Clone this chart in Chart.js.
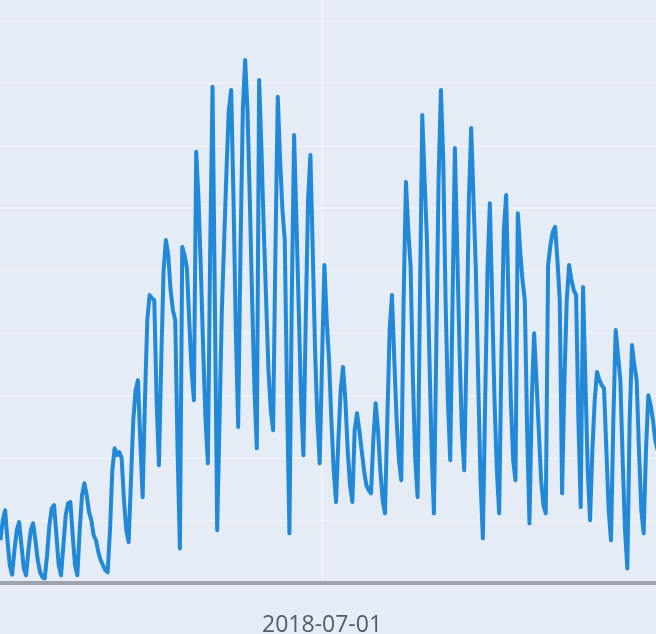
<!DOCTYPE html>
<html>
<head>
<meta charset="utf-8">
<script src="https://cdn.jsdelivr.net/npm/chart.js@4.4.1/dist/chart.umd.min.js"></script>
<style>
  html, body { margin: 0; padding: 0; background: #e5ecf6; overflow: hidden; }
  #wrap { width: 656px; height: 667px; }
  #chart { filter: blur(0.6px); }
</style>
</head>
<body>
<div id="wrap"><canvas id="chart"></canvas></div>
<script>
// daily values, first day below
const startDate = '2018-02-13';
const visits = [
  69, 101, 117, 69, 29, 14, 53, 85, 98, 61,
  24, 13, 53, 85, 96, 69, 37, 18, 10, 8,
  45, 93, 120, 125, 77, 29, 13, 61, 109, 128,
  130, 77, 29, 13, 85, 141, 160, 141, 114, 101,
  77, 69, 50, 37, 29, 21, 18, 85, 181, 216,
  205, 210, 200, 133, 85, 66, 165, 261, 309, 325,
  229, 138, 293, 421, 461, 456, 453, 293, 189, 357,
  501, 549, 525, 469, 437, 421, 213, 56, 538, 525,
  504, 421, 341, 293, 690, 613, 501, 373, 261, 192,
  533, 794, 453, 85, 261, 437, 549, 661, 757, 789,
  613, 405, 250, 533, 757, 837, 757, 613, 453, 309,
  216, 805, 693, 565, 453, 341, 277, 245, 533, 778,
  677, 597, 549, 293, 80, 453, 717, 581, 437, 293,
  205, 421, 613, 685, 533, 373, 261, 192, 357, 509,
  421, 357, 261, 181, 130, 229, 309, 346, 293, 213,
  157, 130, 245, 272, 245, 213, 181, 157, 149, 144,
  229, 288, 245, 181, 133, 112, 261, 405, 461, 357,
  261, 197, 165, 453, 642, 565, 506, 325, 197, 138,
  453, 749, 645, 549, 373, 213, 112, 373, 645, 789,
  677, 453, 293, 197, 453, 696, 533, 373, 245, 181,
  373, 613, 728, 613, 501, 325, 165, 72, 293, 501,
  608, 453, 293, 181, 112, 373, 565, 621, 453, 293,
  197, 165, 592, 533, 485, 453, 245, 96, 293, 400,
  325, 245, 165, 125, 112, 509, 541, 562, 570, 517,
  453, 144, 325, 453, 509, 485, 469, 461, 261, 122,
  474, 325, 181, 101, 213, 293, 338, 325, 317, 312,
  213, 117, 69, 261, 405, 365, 325, 197, 85, 24,
  261, 381, 349, 325, 213, 117, 80, 213, 301, 285,
  261, 229, 213
];
const tickLabels = ['2018-07-01'];
const yTicks = [0, 100, 200, 300, 400, 500, 600, 700, 800, 900];

const days = visits.map((v, i) => {
  const d = new Date(startDate + 'T00:00:00Z');
  d.setUTCDate(d.getUTCDate() + i);
  return d.toISOString().slice(0, 10);
});

const ctx = document.getElementById('chart').getContext('2d');
new Chart(ctx, {
  type: 'line',
  data: {
    datasets: [{
      data: visits.map((v, i) => ({ x: i, y: v })),
      borderColor: '#2189d8',
      borderWidth: 4,
      borderJoinStyle: 'round',
      pointRadius: 0,
      tension: 0,
      fill: false
    }]
  },
  options: {
    responsive: true,
    maintainAspectRatio: false,
    animation: false,
    devicePixelRatio: 1,
    layout: { padding: 0 },
    plugins: { legend: { display: false }, tooltip: { enabled: false } },
    scales: {
      x: {
        type: 'linear',
        min: -0.2,
        max: 281.3,
        afterBuildTicks: axis => {
          axis.ticks = tickLabels.map(l => ({ value: days.indexOf(l) }));
        },
        ticks: {
          callback: val => days[val],
          autoSkip: false,
          maxRotation: 0,
          padding: 28,
          color: '#525b6b',
          font: { family: '"Open Sans"', size: 23 }
        },
        grid: { color: 'rgba(255,255,255,0.35)', lineWidth: 2, drawTicks: false },
        border: { color: '#9ea3ae', width: 4 }
      },
      y: {
        min: 0,
        max: 932.8,
        afterBuildTicks: axis => {
          axis.ticks = yTicks.map(v => ({ value: v }));
        },
        ticks: { display: false },
        grid: { color: 'rgba(255,255,255,0.3)', lineWidth: 2, drawTicks: false },
        border: { display: false }
      }
    }
  }
});
</script>
</body>
</html>
